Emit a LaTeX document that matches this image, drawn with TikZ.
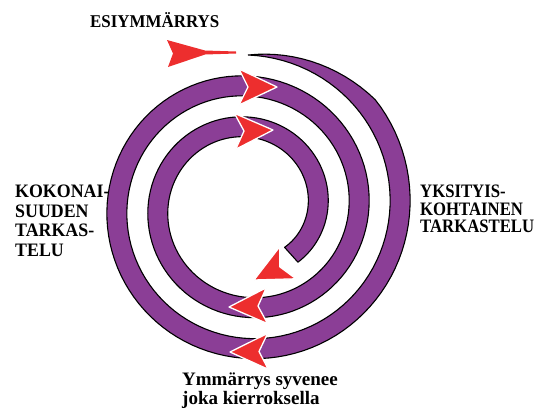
\documentclass[tikz,border=0pt]{standalone}
\usepackage{fontspec}
\setmainfont{Liberation Serif}
\newfontfamily\narrowserif{Liberation Serif}[FakeStretch=0.88]
\newfontfamily\wideserif{Liberation Serif}[FakeStretch=0.94]
\definecolor{bandpurple}{RGB}{139,62,150}
\definecolor{headred}{RGB}{237,46,46}
\begin{document}
\begin{tikzpicture}[x=1pt,y=-1pt,line join=round,
  band/.style={fill=bandpurple,draw=black,line width=1.1pt},
  arrowhead/.style={fill=headred,draw=white,line width=1.3pt},
  textblock/.style={font=\narrowserif\bfseries\fontsize{19}{18}\selectfont,inner sep=0pt,align=left},
  headarrow/.pic={\filldraw[arrowhead] (0,0) -- (-38,18) -- (-29,0) -- (-38,-18) -- cycle;}]
  \useasboundingbox (0,0) rectangle (534,410);
  \def\cx{248.25}\def\cy{207}
  \filldraw[band] plot[domain=-90:768,samples=260,variable=\t]
      ({\cx+(141.75-0.11389*\t+20*min(1,(\t+90)/50))*cos(\t)},{\cy+(141.75-0.11389*\t+20*min(1,(\t+90)/50))*sin(\t)})
    -- plot[domain=0:858,samples=260,variable=\t]
      ({\cx+(141.75-0.11389*(768-\t))*cos(768-\t)},{\cy+(141.75-0.11389*(768-\t))*sin(768-\t)})
    -- cycle;
  \fill[headred] (167,40) -- (205,50.5) -- (236,51.5) -- (236,53.5) -- (205,54.5) -- (168,67) -- (173,53.5) -- cycle;
  \pic[rotate=0] at (277,87) {headarrow};
  \pic[rotate=2] at (273,130) {headarrow};
  \pic[rotate=207] at (254,280) {headarrow};
  \pic[rotate=182] at (229,307) {headarrow};
  \pic[rotate=181] at (230,352) {headarrow};
  \node[textblock,font=\wideserif\bfseries\fontsize{18}{18}\selectfont,anchor=base west] (pre) at (90,27) {ESIYMMÄRRYS};
  \node[textblock,font=\wideserif\bfseries\fontsize{19}{19.5}\selectfont,anchor=north west] (whole) at (15,185) {KOKONAI-\\SUUDEN\\TARKAS-\\TELU};
  \node[textblock,font=\narrowserif\bfseries\fontsize{19}{17.5}\selectfont,anchor=north west] (detail) at (420,185) {YKSITYIS-\\KOHTAINEN\\TARKASTELU};
  \node[textblock,font=\bfseries\fontsize{19}{17}\selectfont,anchor=north west] (deeper) at (182,373) {Ymmärrys syvenee\\joka kierroksella};
\end{tikzpicture}
\end{document}
